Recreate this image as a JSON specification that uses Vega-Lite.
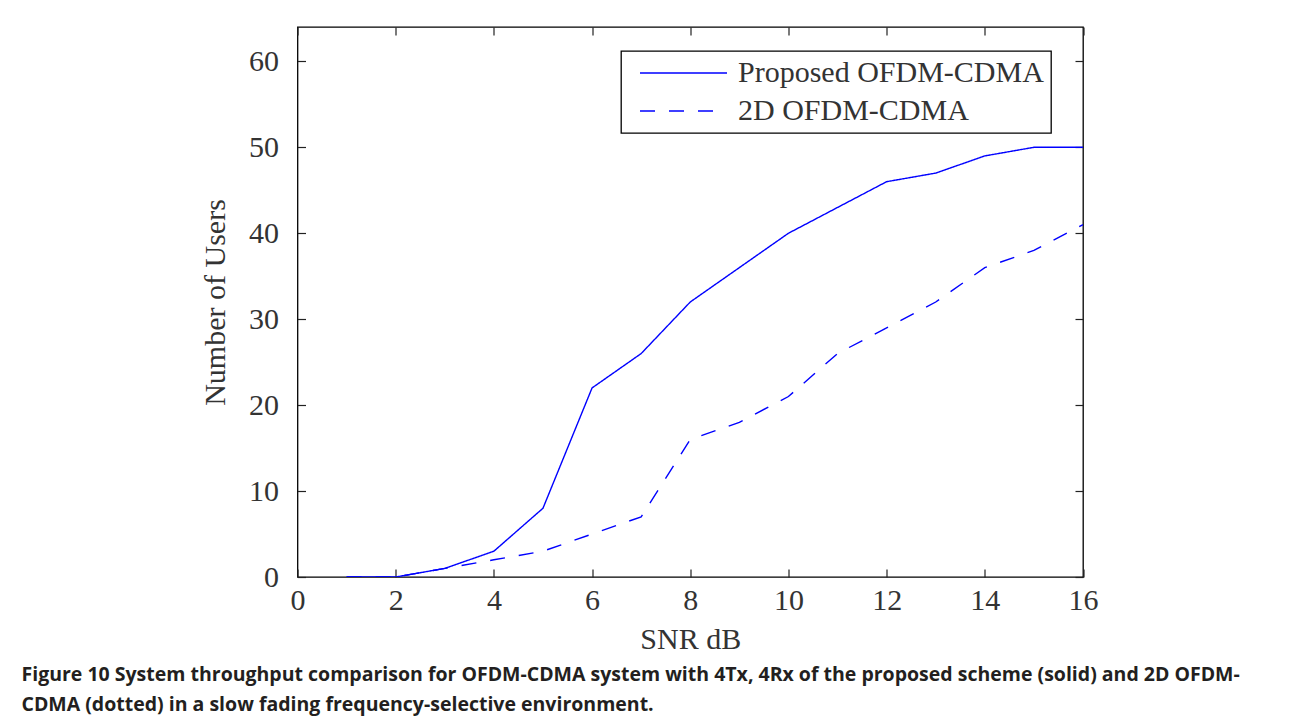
{
  "$schema": "https://vega.github.io/schema/vega-lite/v6.json",
  "width": 785.5,
  "height": 550,
  "autosize": {"type": "none"},
  "padding": {"left": 297.5, "top": 27, "right": 206, "bottom": 142},
  "background": "white",
  "title": {
    "text": [
      "Figure 10 System throughput comparison for OFDM-CDMA system with 4Tx, 4Rx of the proposed scheme (solid) and 2D OFDM-",
      "CDMA (dotted) in a slow fading frequency-selective environment."
    ],
    "orient": "bottom",
    "anchor": "start",
    "frame": "group",
    "dx": -276,
    "offset": 12,
    "font": "Open Sans",
    "fontSize": 19.5,
    "fontWeight": "bold",
    "color": "#231f20",
    "lineHeight": 30
  },
  "data": {
    "values": [
      {"snr": 1, "users": 0, "series": "Proposed OFDM-CDMA"},
      {"snr": 2, "users": 0, "series": "Proposed OFDM-CDMA"},
      {"snr": 3, "users": 1, "series": "Proposed OFDM-CDMA"},
      {"snr": 4, "users": 3, "series": "Proposed OFDM-CDMA"},
      {"snr": 5, "users": 8, "series": "Proposed OFDM-CDMA"},
      {"snr": 6, "users": 22, "series": "Proposed OFDM-CDMA"},
      {"snr": 7, "users": 26, "series": "Proposed OFDM-CDMA"},
      {"snr": 8, "users": 32, "series": "Proposed OFDM-CDMA"},
      {"snr": 9, "users": 36, "series": "Proposed OFDM-CDMA"},
      {"snr": 10, "users": 40, "series": "Proposed OFDM-CDMA"},
      {"snr": 11, "users": 43, "series": "Proposed OFDM-CDMA"},
      {"snr": 12, "users": 46, "series": "Proposed OFDM-CDMA"},
      {"snr": 13, "users": 47, "series": "Proposed OFDM-CDMA"},
      {"snr": 14, "users": 49, "series": "Proposed OFDM-CDMA"},
      {"snr": 15, "users": 50, "series": "Proposed OFDM-CDMA"},
      {"snr": 16, "users": 50, "series": "Proposed OFDM-CDMA"},
      {"snr": 1, "users": 0, "series": "2D OFDM-CDMA"},
      {"snr": 2, "users": 0, "series": "2D OFDM-CDMA"},
      {"snr": 3, "users": 1, "series": "2D OFDM-CDMA"},
      {"snr": 4, "users": 2, "series": "2D OFDM-CDMA"},
      {"snr": 5, "users": 3, "series": "2D OFDM-CDMA"},
      {"snr": 6, "users": 5, "series": "2D OFDM-CDMA"},
      {"snr": 7, "users": 7, "series": "2D OFDM-CDMA"},
      {"snr": 8, "users": 16, "series": "2D OFDM-CDMA"},
      {"snr": 9, "users": 18, "series": "2D OFDM-CDMA"},
      {"snr": 10, "users": 21, "series": "2D OFDM-CDMA"},
      {"snr": 11, "users": 26, "series": "2D OFDM-CDMA"},
      {"snr": 12, "users": 29, "series": "2D OFDM-CDMA"},
      {"snr": 13, "users": 32, "series": "2D OFDM-CDMA"},
      {"snr": 14, "users": 36, "series": "2D OFDM-CDMA"},
      {"snr": 15, "users": 38, "series": "2D OFDM-CDMA"},
      {"snr": 16, "users": 41, "series": "2D OFDM-CDMA"}
    ]
  },
  "layer": [
    {
      "mark": {"type": "line", "strokeWidth": 1.4, "clip": true},
      "encoding": {
        "x": {
          "field": "snr", "type": "quantitative",
          "scale": {"domain": [0, 16], "nice": false, "zero": false},
          "axis": {"title": "SNR dB", "values": [0, 2, 4, 6, 8, 10, 12, 14, 16], "labelPadding": 16, "titlePadding": 9}
        },
        "y": {
          "field": "users", "type": "quantitative",
          "scale": {"domain": [0, 64], "nice": false},
          "axis": {"title": "Number of Users", "values": [0, 10, 20, 30, 40, 50, 60], "labelPadding": 27, "titlePadding": 18}
        },
        "color": {
          "field": "series", "type": "nominal",
          "scale": {"domain": ["Proposed OFDM-CDMA", "2D OFDM-CDMA"], "range": ["#0000ff", "#0000ff"]},
          "legend": {"title": null}
        },
        "strokeDash": {
          "field": "series", "type": "nominal",
          "scale": {"domain": ["Proposed OFDM-CDMA", "2D OFDM-CDMA"], "range": [[1, 0], [15, 14]]},
          "legend": {"title": null}
        }
      }
    },
    {
      "mark": {"type": "point", "opacity": 0},
      "encoding": {
        "x": {
          "field": "snr", "type": "quantitative",
          "axis": {"orient": "top", "labels": false, "title": null, "values": [0, 2, 4, 6, 8, 10, 12, 14, 16]}
        },
        "y": {
          "field": "users", "type": "quantitative",
          "axis": {"orient": "right", "labels": false, "title": null, "values": [0, 10, 20, 30, 40, 50, 60]}
        }
      }
    }
  ],
  "resolve": {"axis": {"x": "independent", "y": "independent"}},
  "config": {
    "view": {"stroke": "#000000", "strokeWidth": 1.3},
    "axis": {
      "grid": false,
      "domain": false,
      "tickSize": -8,
      "tickColor": "#222222",
      "tickWidth": 1.2,
      "labelFont": "Liberation Serif",
      "labelFontSize": 30,
      "labelColor": "#333333",
      "labelFlush": false,
      "labelOverlap": false,
      "titleFont": "Liberation Serif",
      "titleFontSize": 30,
      "titleFontWeight": "normal",
      "titleColor": "#333333"
    },
    "legend": {
      "orient": "none",
      "legendX": 323.5,
      "legendY": 24,
      "strokeColor": "#000000",
      "strokeWidth": 1.3,
      "fillColor": "#ffffff",
      "padding": 7,
      "symbolOffset": 11,
      "symbolType": "stroke",
      "symbolSize": 7569,
      "symbolStrokeWidth": 1.4,
      "clipHeight": 30,
      "rowPadding": 8,
      "labelOffset": 10,
      "labelFont": "Liberation Serif",
      "labelFontSize": 30,
      "labelColor": "#333333",
      "labelLimit": 1000
    }
  }
}
